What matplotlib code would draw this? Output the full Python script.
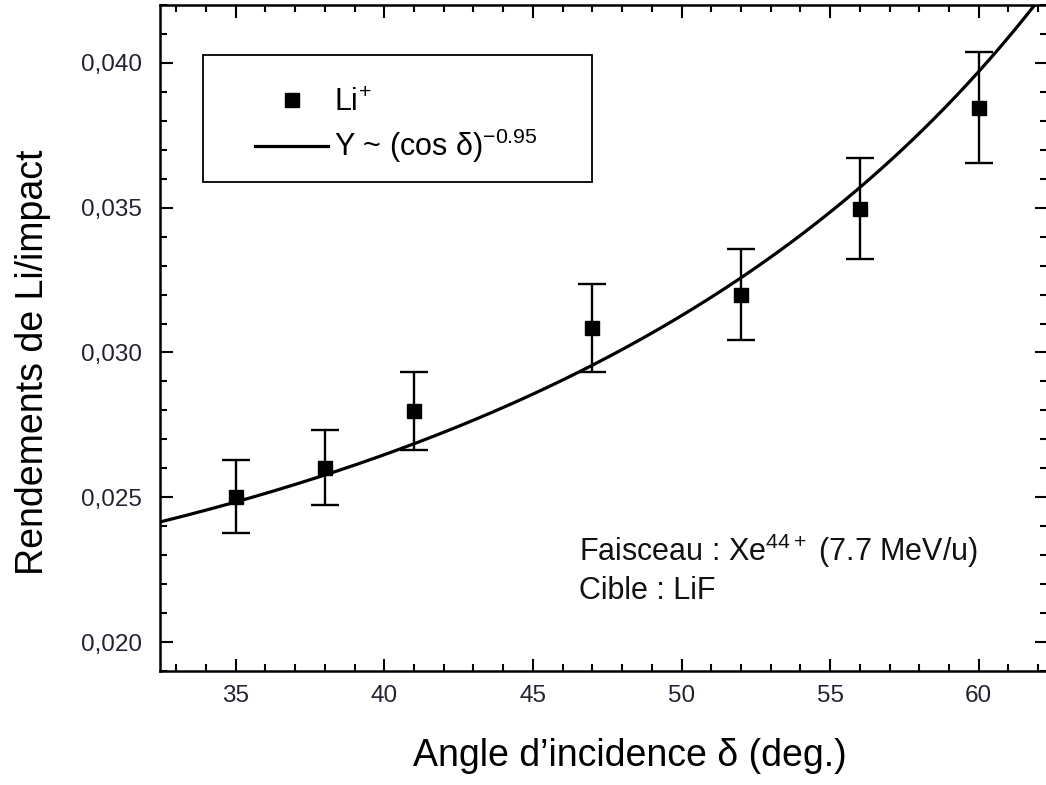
import numpy as np
import matplotlib
matplotlib.use("Agg")
import matplotlib.pyplot as plt
from matplotlib.lines import Line2D
from matplotlib.patches import Rectangle
from matplotlib.ticker import MultipleLocator, FuncFormatter

# --- Données ---
angles = [35, 38, 41, 47, 52, 56, 60]
rendements = [0.02502, 0.02602, 0.02798, 0.03085, 0.03200, 0.03497, 0.03846]
erreurs = [0.00126, 0.00129, 0.00136, 0.00153, 0.00158, 0.00175, 0.00193]

# ajustement Y ~ A (cos delta)^n
fit_amplitude = 0.02055
fit_exposant = -0.95

x_lim = (32.45, 62.3)
y_lim = (0.019, 0.042)

plt.rcParams["font.family"] = ["Liberation Sans", "DejaVu Sans"]
plt.rcParams["mathtext.fontset"] = "custom"
plt.rcParams["mathtext.rm"] = "Liberation Sans"
plt.rcParams["mathtext.it"] = "Liberation Sans:italic"

W, H = 1046, 785
fig = plt.figure(figsize=(W / 100, H / 100), dpi=100)
ax = fig.add_axes([160 / W, 1 - 671 / H, 887 / W, 666 / H])

# courbe d'ajustement
xs = np.linspace(x_lim[0], x_lim[1], 400)
ax.plot(xs, fit_amplitude * np.cos(np.radians(xs)) ** fit_exposant,
        color="black", lw=2.3, zorder=2)

# points expérimentaux
ax.errorbar(angles, rendements, yerr=erreurs, fmt="none", ecolor="black",
            elinewidth=1.7, capsize=10, capthick=1.7, zorder=3)
ax.plot(angles, rendements, "s", color="black", ms=10.5, zorder=4)

ax.set_xlim(*x_lim)
ax.set_ylim(*y_lim)

ax.xaxis.set_major_locator(MultipleLocator(5))
ax.xaxis.set_minor_locator(MultipleLocator(1))
ax.yaxis.set_major_locator(MultipleLocator(0.005))
ax.yaxis.set_minor_locator(MultipleLocator(0.001))
ax.yaxis.set_major_formatter(FuncFormatter(lambda v, p: f"{v:.3f}".replace(".", ",")))

ax.tick_params(which="both", direction="in", top=True, right=True, width=1.5,
               colors="black", labelcolor="#222233")
ax.tick_params(which="major", length=9, labelsize=17.5)
ax.tick_params(axis="y", which="major", pad=13)
ax.tick_params(axis="x", which="major", pad=10)
ax.tick_params(which="minor", length=5)
for s in ax.spines.values():
    s.set_linewidth(1.8)
ax.spines["right"].set_visible(False)

ax.set_xlabel("Angle d\u2019incidence \u03b4 (deg.)", fontsize=27)
ax.xaxis.set_label_coords(0.530, -0.128)
ax.xaxis.label.set_va("center")
ax.set_ylabel("Rendements de Li/impact", fontsize=27)
ax.yaxis.set_label_coords(-0.143, 0.464)
ax.yaxis.label.set_va("center")


# --- légende : cadre dessiné à part pour coller aux marges d'origine ---
def px_ax(xp, yp):
    # pixels de l'image -> coordonnées de l'axe
    return (xp - 160) / 887, 1 - (yp - 5) / 666


cadre_x, cadre_y = px_ax(203, 182)
cadre_x2, cadre_y2 = px_ax(592, 55)
ax.add_patch(Rectangle((cadre_x, cadre_y), cadre_x2 - cadre_x, cadre_y2 - cadre_y,
                       transform=ax.transAxes, fill=True, facecolor="white",
                       edgecolor="black", lw=1.3, zorder=5))

poignees = [
    Line2D([], [], ls="none", marker="s", color="black", ms=10.5),
    Line2D([], [], color="black", lw=2.3),
]
textes = ["Li$^{+}$", "Y ~ (cos \u03b4)$^{\\mathregular{-0.95}}$"]
leg = ax.legend(poignees, textes, loc="upper left", bbox_to_anchor=px_ax(255, 88),
                fontsize=22, frameon=False, borderpad=0,
                handlelength=2.4, handletextpad=0.2, labelspacing=0.3,
                borderaxespad=0)
leg.set_zorder(6)

ax.text(0.472, 0.153, "Faisceau : Xe$^{44+}$ (7.7 MeV/u)\nCible : LiF",
        transform=ax.transAxes, fontsize=22, ha="left", va="center",
        linespacing=1.25, color="#111111")

fig.savefig("out.png", dpi=100, facecolor="white")
